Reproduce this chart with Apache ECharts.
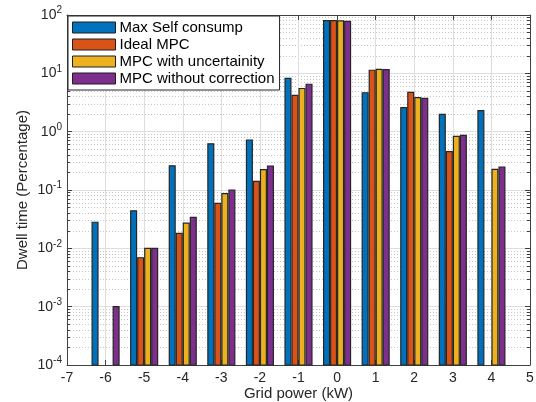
<!DOCTYPE html>
<html>
<head>
<meta charset="utf-8">
<style>
html,body{margin:0;padding:0;background:#fff;}
#c{width:536px;height:402px;}
</style>
<script src="https://cdn.jsdelivr.net/npm/echarts@6/dist/echarts.min.js"></script>
</head>
<body>
<div id="c"></div>
<script>
const categories = [-6, -5, -4, -3, -2, -1, 0, 1, 2, 3, 4];
const maxSelfConsump = [0.028, 0.044, 0.26, 0.62, 0.72, 8.2, 80, 4.65, 2.58, 1.98, 2.29];
const idealMPC = [null, 0.0069, 0.018, 0.059, 0.141, 4.2, 80, 11.3, 4.72, 0.454, null];
const mpcUncertainty = [null, 0.01, 0.027, 0.087, 0.223, 5.5, 79, 11.7, 3.83, 0.83, 0.226];
const mpcNoCorrection = [0.001, 0.01, 0.034, 0.1, 0.258, 6.5, 78, 11.6, 3.72, 0.865, 0.248];
const seriesNames = ['Max Self consump', 'Ideal MPC', 'MPC with uncertainity', 'MPC without correction'];
const seriesColors = ['#0072BD', '#D95319', '#EDB120', '#7E2F8E'];
const yTickExponents = ['-4', '-3', '-2', '-1', '0', '1', '2'];
const yMin = 1e-4, yMax = 100;
const xMin = -7, xMax = 5;

const allSeries = [maxSelfConsump, idealMPC, mpcUncertainty, mpcNoCorrection];

function makeRender(idx) {
  return function (params, api) {
    const x = api.value(0), v = api.value(1);
    const p0 = api.coord([x, v]);
    const p1 = api.coord([x + 1, v]);
    const unit = p1[0] - p0[0];
    const step = unit * 0.182;
    const w = unit * 0.152;
    const cx = p0[0] + (idx - 1.5) * step;
    const base = api.coord([x, yMin])[1];
    return {
      type: 'rect',
      shape: { x: cx - w / 2, y: p0[1], width: w, height: base - p0[1] },
      style: { fill: api.visual('color'), stroke: '#262626', lineWidth: 1.2 }
    };
  };
}

const series = allSeries.map((arr, i) => ({
  name: seriesNames[i],
  type: 'custom',
  xAxisIndex: 0,
  yAxisIndex: 0,
  itemStyle: { color: seriesColors[i] },
  encode: { x: 0, y: 1 },
  renderItem: makeRender(i),
  data: categories.map((c, j) => [c, arr[j]]).filter(d => d[1] != null),
  z: 3
}));

const axisColor = '#404040';
const tickLabelStyle = { color: '#262626', fontSize: 14, fontFamily: 'Liberation Sans, Arial, sans-serif' };

const chart = echarts.init(document.getElementById('c'), null, { renderer: 'canvas' });
chart.setOption({
  backgroundColor: '#fff',
  animation: false,
  grid: { left: 67, right: 6, top: 15, bottom: 37, containLabel: false, outerBoundsMode: 'none' },
  legend: {
    orient: 'vertical',
    left: 68, top: 16,
    data: seriesNames,
    icon: 'rect',
    itemWidth: 43, itemHeight: 11, itemGap: 2,
    padding: [4, 5, 4, 4],
    backgroundColor: '#fff',
    borderColor: '#262626', borderWidth: 1,
    borderRadius: 0,
    itemStyle: { borderColor: '#1e1e1e', borderWidth: 1 },
    textStyle: { color: '#000', fontSize: 15, fontFamily: 'Liberation Sans, Arial, sans-serif', padding: [0, 0, 0, -1] },
    z: 10
  },
  xAxis: [{
    type: 'value', min: xMin, max: xMax, interval: 1,
    name: 'Grid power (kW)', nameLocation: 'middle', nameGap: 21, nameMoveOverlap: false,
    nameTextStyle: { color: '#262626', fontSize: 15, fontFamily: 'Liberation Sans, Arial, sans-serif' },
    axisLine: { show: true, onZero: false, lineStyle: { color: axisColor, width: 1 } },
    axisTick: { show: true, inside: true, length: 5, lineStyle: { color: axisColor } },
    axisLabel: Object.assign({ margin: 6 }, tickLabelStyle),
    splitLine: { show: true, lineStyle: { color: '#dedede', width: 1 } }
  }, {
    type: 'value', min: xMin, max: xMax, interval: 1, position: 'top',
    axisLine: { show: true, onZero: false, lineStyle: { color: axisColor, width: 1 } },
    axisTick: { show: true, inside: true, length: 5, lineStyle: { color: axisColor } },
    axisLabel: { show: false },
    splitLine: { show: false }
  }],
  yAxis: [{
    type: 'log', logBase: 10, min: yMin, max: yMax,
    name: 'Dwell time (Percentage)', nameLocation: 'middle', nameGap: 37, nameMoveOverlap: false,
    nameTextStyle: { color: '#262626', fontSize: 15, fontFamily: 'Liberation Sans, Arial, sans-serif' },
    axisLine: { show: true, onZero: false, lineStyle: { color: axisColor, width: 1 } },
    axisTick: { show: true, inside: true, length: 5, lineStyle: { color: axisColor } },
    minorTick: { show: true, splitNumber: 9, length: 3, lineStyle: { color: axisColor } },
    axisLabel: {
      margin: 5,
      formatter: function (val) {
        const i = Math.round(Math.log10(val)) + 4;
        return '{b|10}{s|' + yTickExponents[i] + '}';
      },
      rich: {
        b: { color: '#262626', fontSize: 14, fontFamily: 'Liberation Sans, Arial, sans-serif' },
        s: { color: '#262626', fontSize: 10, fontFamily: 'Liberation Sans, Arial, sans-serif', padding: [0, 0, 9, 0] }
      }
    },
    splitLine: { show: true, lineStyle: { color: '#dedede', width: 1 } },
    minorSplitLine: { show: true, lineStyle: { color: '#c4c4c4', width: 1, type: [1, 2] } }
  }, {
    type: 'log', logBase: 10, min: yMin, max: yMax, position: 'right',
    axisLine: { show: true, onZero: false, lineStyle: { color: axisColor, width: 1 } },
    axisTick: { show: true, inside: true, length: 5, lineStyle: { color: axisColor } },
    minorTick: { show: true, splitNumber: 9, length: 3, lineStyle: { color: axisColor } },
    axisLabel: { show: false },
    splitLine: { show: false }
  }],
  series: series
});
</script>
</body>
</html>
